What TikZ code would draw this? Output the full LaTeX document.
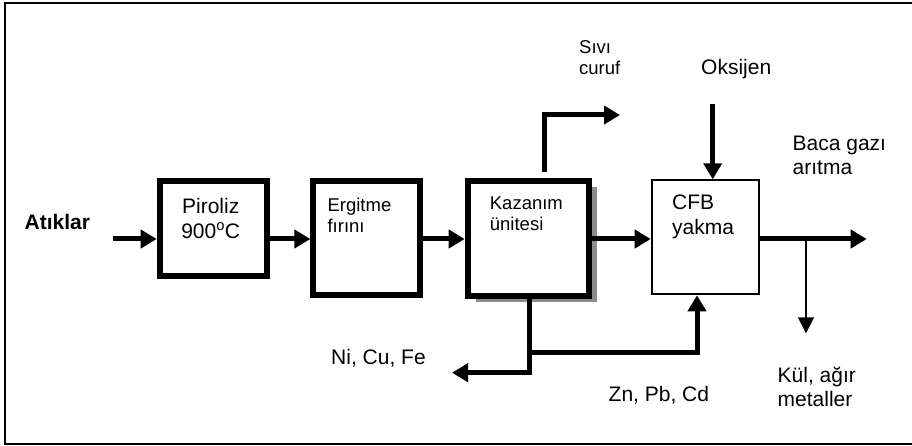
\documentclass[tikz,border=0pt]{standalone}
\usepackage{fontspec}
\setmainfont{Liberation Sans}
\usetikzlibrary{positioning,arrows.meta,shadows}

\begin{document}
\begin{tikzpicture}[
  x=1pt, y=-1pt, font=\fontsize{21}{24.5}\selectfont,
  >={Triangle[length=16pt,width=18pt]},
  flow/.style={->,line width=5pt},
  thinflow/.style={-{Triangle[length=16pt,width=16pt]},line width=1.7pt},
  blok/.style={draw,line width=6pt,inner sep=0pt},
  txt/.style={inner sep=0pt,align=left},
  small/.style={font=\fontsize{18.5}{21}\selectfont}
]
\useasboundingbox (0,0) rectangle (912,446);
\draw[line width=2pt] (5.3,3.3) rectangle (912.5,443.7);

% process boxes
\node[blok,minimum width=107pt,minimum height=95pt,anchor=north west] (pir) at (156.7,178.3) {};
\node[blok,minimum width=106.6pt,minimum height=114pt,right=40.7pt of pir.north east,anchor=north west] (erg) {};
\node[blok,fill=white,minimum width=121.7pt,minimum height=114.3pt,right=41.7pt of erg.north east,anchor=north west,
  drop shadow={shadow xshift=8pt,shadow yshift=-6pt,fill=black!45,opacity=1}] (kaz) {};
\node[draw,line width=2pt,minimum width=107pt,minimum height=114pt,right=58.3pt of kaz.north east,anchor=north west,yshift=-1pt] (cfb) {};

\node[txt,align=center,below=20pt of pir.north,xshift=-2.5pt] (pirt) {Piroliz\\900\textsuperscript{o}C};
\node[txt,small,below right=20pt and 17pt of erg.north west] (ergt) {Ergitme\\fırını};
\node[txt,small,below right=18.4pt and 25pt of kaz.north west] (kazt) {Kazanım\\ünitesi};
\node[txt,below right=15.5pt and 21.3pt of cfb.north west] (cfbt) {CFB\\yakma};

% main line
\coordinate (giris) at (113.3,239);
\coordinate (baca) at (866.7,239);
\draw[flow] (giris) -- (pir.west |- giris);
\draw[flow] (pir.east |- giris) -- (erg.west |- giris);
\draw[flow] (erg.east |- giris) -- (kaz.west |- giris);
\draw[flow] (kaz.east |- giris) -- (cfb.west |- giris);
\draw[flow] (cfb.east |- giris) -- (baca);

% side streams
\coordinate (svdon) at (544,115);
\coordinate (curuf) at (620,115);
\draw[flow,shorten <=6.3pt] (kaz.north -| svdon) -- (svdon) -- (curuf);
\coordinate (oks) at (712.7,104.3);
\draw[flow] (oks) -- (cfb.north -| oks);
\coordinate (ayrim) at (529,372.7);
\coordinate (ni) at (452,372.7);
\coordinate (kol) at (529,352.7);
\coordinate (zn) at (697,352.7);
\draw[flow] (kaz.south -| ayrim) -- (ayrim) -- (ni);
\draw[flow] (kol) -- (zn) -- (cfb.south -| zn);
\coordinate (kul) at (806,333.3);
\draw[thinflow] (kul |- baca) -- (kul);

% labels (base = last line)
\node[txt,font=\fontsize{21}{24.5}\selectfont\bfseries,anchor=base west] (atik) at (24.5,229.3) {Atıklar};
\node[txt,small,anchor=base west] (sivi) at (579,75) {Sıvı\\curuf};
\node[txt,anchor=base west] (oksl) at (701,75) {Oksijen};
\node[txt,anchor=base west] (bacal) at (792.5,175) {Baca gazı\\arıtma};
\node[txt,anchor=base west] (kull) at (777.5,406.7) {Kül, ağır\\metaller};
\node[txt,anchor=base west] (nil) at (331,364) {Ni, Cu, Fe};
\node[txt,anchor=base west] (znl) at (608.5,401.7) {Zn, Pb, Cd};
\end{tikzpicture}
\end{document}
